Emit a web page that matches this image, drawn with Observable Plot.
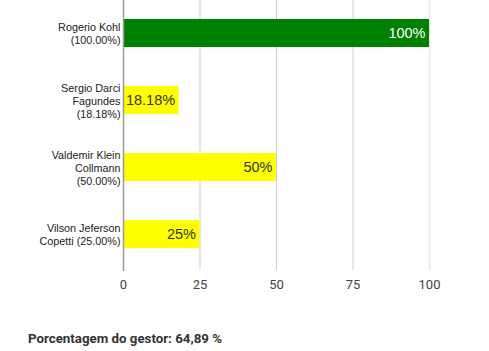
<!DOCTYPE html>
<html><head><meta charset="utf-8">
<script src="https://cdn.jsdelivr.net/npm/d3@7"></script>
<script src="https://cdn.jsdelivr.net/npm/@observablehq/plot@0.6"></script>
<style>
body{margin:0;background:#fff;}
#cap{font-family:Roboto,sans-serif;font-weight:bold;font-size:13.3px;color:#333;margin:31px 0 0 28px;}
g[aria-label="y-axis tick label"]{font-family:Arial,"Liberation Sans",sans-serif;}
g.barlbl{font-family:Arial,"Liberation Sans",sans-serif;}
</style>
</head><body>
<div id="chart"></div>
<div id="cap">Porcentagem do gestor: 64,89 %</div>
<script>
const names = ["Rogerio Kohl\n(100.00%)", "Sergio Darci\nFagundes\n(18.18%)", "Valdemir Klein\nCollmann\n(50.00%)", "Vilson Jeferson\nCopetti (25.00%)"];
const values = [100, 18.18, 50, 25];
const labels = ["100%", "18.18%", "50%", "25%"];
const colors = ["#008000", "#ffff00", "#ffff00", "#ffff00"];
const textColors = ["#ffffff", "#333333", "#333333", "#333333"];
const xTicks = [0, 25, 50, 75, 100];

const data = names.map((n, i) => ({name: n, value: values[i], label: labels[i], color: colors[i], tc: textColors[i]}));

const chart = Plot.plot({
  width: 489, height: 300,
  marginLeft: 123, marginRight: 60, marginTop: 0, marginBottom: 32,
  x: {domain: [0, 100], ticks: xTicks, label: null},
  y: {domain: names, paddingInner: 0.58, paddingOuter: 0.29, label: null},
  style: {fontFamily: "Roboto, sans-serif"},
  marks: [
    Plot.ruleX([100], {stroke: "#e8e8e8", strokeWidth: 1.5, insetBottom: -2}),
    Plot.ruleX(xTicks.filter(d => d > 0 && d < 100), {stroke: "#cccccc", insetBottom: -2}),
    Plot.barX(data, {y: "name", x: "value", fill: "color"}),
    Plot.text(data, {y: "name", x: "value", text: "label", textAnchor: "end", dx: -4, fill: "tc", fontSize: 14.5, className: "barlbl"}),
    Plot.ruleX([0], {stroke: "#999999", strokeWidth: 1.5, insetBottom: -3}),
    Plot.axisY({label: null, tickSize: 0, tickPadding: 3, fontSize: 10.8, fill: "#222", lineHeight: 1.2}),
    Plot.axisX({label: null, ticks: xTicks, tickSize: 0, tickPadding: 11, fontSize: 13, fill: "#444"})
  ]
});
document.getElementById("chart").appendChild(chart);
</script>
</body></html>
